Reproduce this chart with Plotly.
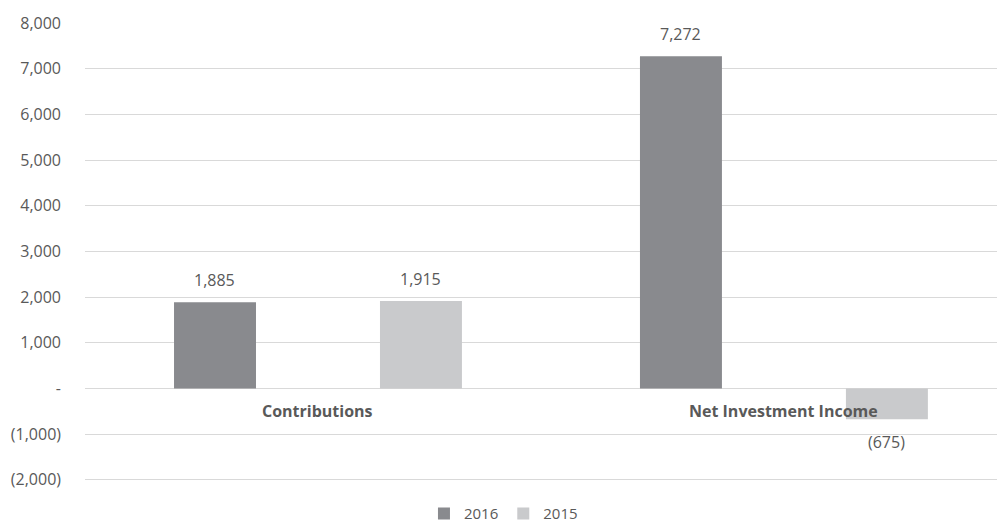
import plotly.graph_objects as go

categories = ["Contributions", "Net Investment Income"]
series_names = ["2016", "2015"]
values_2016 = [1885, 7272]
values_2015 = [1915, -675]
tick_vals = [-2000, -1000, 0, 1000, 2000, 3000, 4000, 5000, 6000, 7000, 8000]
tick_text = ["(2,000)", "(1,000)", "-", "1,000", "2,000", "3,000", "4,000",
             "5,000", "6,000", "7,000", "8,000"]

colors = ["#898A8E", "#C9CACC"]
FONT = "'Open Sans', sans-serif"
TXT = "#595959"


def fmt(v):
    s = f"{abs(v):,.0f}"
    return f"({s})" if v < 0 else s


fig = go.Figure()
for name, vals, col in zip(series_names, [values_2016, values_2015], colors):
    fig.add_trace(go.Bar(x=categories, y=vals, name=name, marker_color=col,
                         marker_line_width=0))

ann = []
for si, vals in enumerate([values_2016, values_2015]):
    for cat, v in zip(categories, vals):
        ann.append(dict(x=cat, y=v, xref="x", yref="y", text=fmt(v), showarrow=False,
                        xshift=-103 if si == 0 else 103,
                        yshift=22 if v >= 0 else -23, yanchor="middle",
                        font=dict(family=FONT, size=16, color=TXT)))
for cat in categories:
    ann.append(dict(x=cat, y=0, xref="x", yref="y", text=f"<b>{cat}</b>", showarrow=False,
                    yshift=-23, yanchor="middle",
                    font=dict(family=FONT, size=16, color=TXT)))

fig.update_layout(
    width=1005, height=527,
    margin=dict(l=77, r=11, t=15, b=54, autoexpand=False),
    plot_bgcolor="white", paper_bgcolor="white",
    barmode="group", bargap=0.116, bargroupgap=0.602,
    annotations=ann,
    legend=dict(orientation="h", xref="container", x=0.493, xanchor="center",
                yref="container", y=0.009, yanchor="bottom",
                font=dict(family=FONT, size=15, color=TXT)),
    xaxis=dict(showticklabels=False, showgrid=False, showline=False, zeroline=False,
               range=[-0.5, 1.468], automargin=False),
    yaxis=dict(range=[-2025, 8000], tickvals=tick_vals, ticktext=tick_text,
               showgrid=True, gridcolor="#D9D9D9", gridwidth=1,
               zeroline=True, zerolinecolor="#D9D9D9", zerolinewidth=1,
               ticklabelstandoff=23, automargin=False,
               tickfont=dict(family=FONT, size=16, color=TXT)),
)

fig.write_html("out.html")
